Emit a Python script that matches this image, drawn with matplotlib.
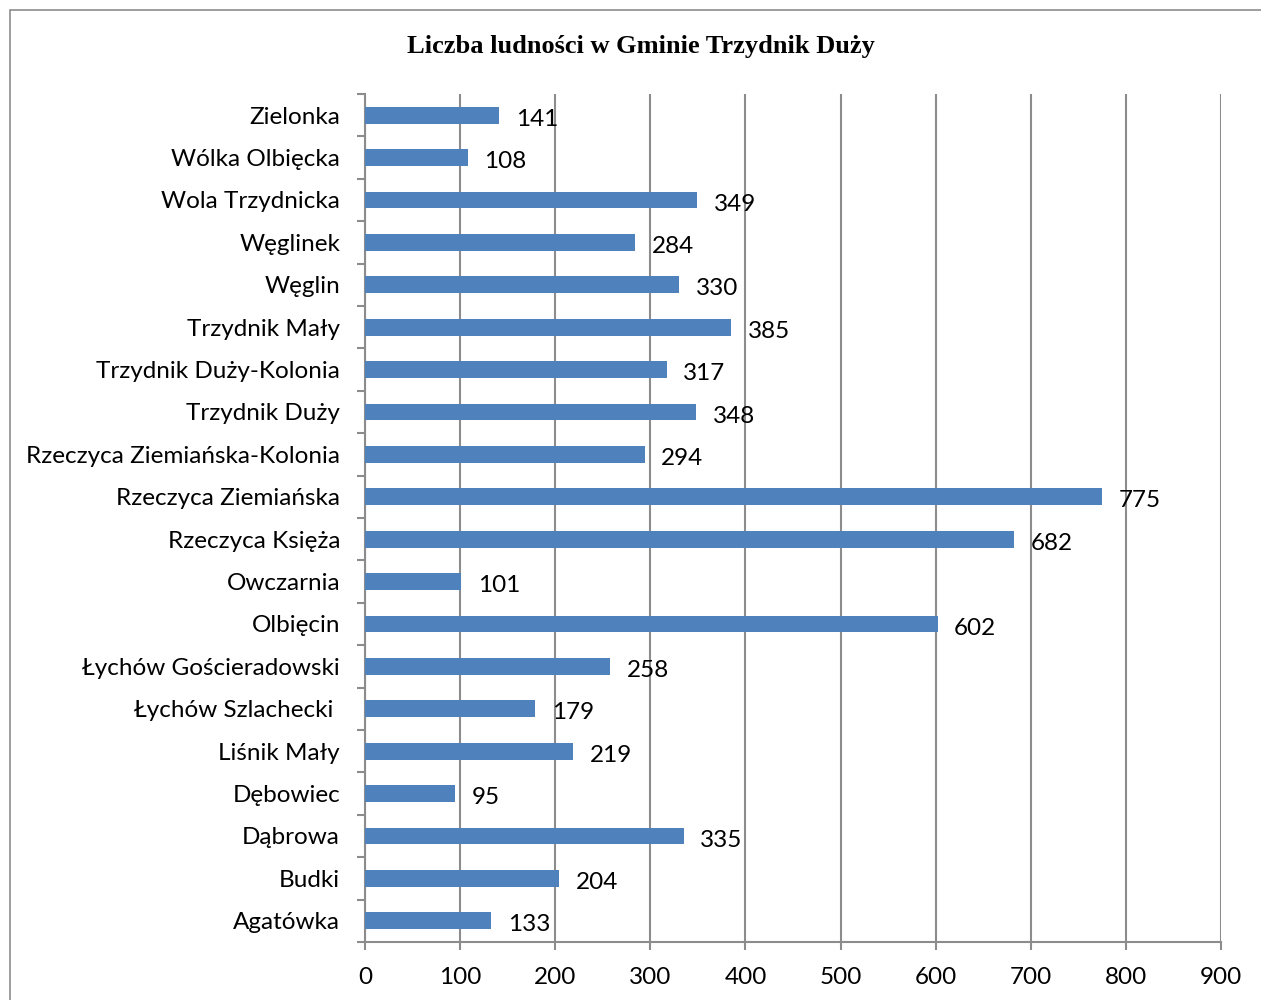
import numpy as np
import matplotlib.pyplot as plt
from matplotlib.patches import Rectangle

# dane (od dołu do góry)
miejscowosci = ['Agatówka', 'Budki', 'Dąbrowa', 'Dębowiec', 'Liśnik Mały',
                'Łychów Szlachecki ', 'Łychów Gościeradowski', 'Olbięcin', 'Owczarnia',
                'Rzeczyca Księża', 'Rzeczyca Ziemiańska', 'Rzeczyca Ziemiańska-Kolonia',
                'Trzydnik Duży', 'Trzydnik Duży-Kolonia', 'Trzydnik Mały', 'Węglin',
                'Węglinek', 'Wola Trzydnicka', 'Wólka Olbięcka', 'Zielonka']
ludnosc = [133, 204, 335, 95, 219, 179, 258, 602, 101, 682, 775, 294,
           348, 317, 385, 330, 284, 349, 108, 141]
x_ticks = [0, 100, 200, 300, 400, 500, 600, 700, 800, 900]

grey = '#8c8c8c'
font = ['Lato', 'DejaVu Sans']
fs = 17.5

fig = plt.figure(figsize=(12.61, 10), dpi=100)
fig.patches.append(Rectangle((10 / 1261, -0.1), 1.2, 1.1 - 10 / 1000, transform=fig.transFigure,
                             fill=False, edgecolor=grey, linewidth=1.2))
ax = fig.add_axes([365 / 1261, 1 - 942 / 1000, (1221 - 365) / 1261, (942 - 94) / 1000])

y = np.arange(len(miejscowosci))
ax.barh(y, ludnosc, height=0.4, color='#4F81BD', zorder=3)

for yi, v in zip(y, ludnosc):
    ax.annotate(str(v), (v, yi), xytext=(12, -3), textcoords='offset points',
                va='center', ha='left', fontsize=fs, family=font)

ax.set_xlim(0, 900)
ax.set_ylim(-0.5, len(miejscowosci) - 0.5)
ax.set_xticks(x_ticks)
ax.set_xticklabels([str(t) for t in x_ticks], fontsize=fs, family=font)
ax.set_yticks(y)
ax.set_yticklabels(miejscowosci, fontsize=fs, family=font)
ax.set_yticks(np.arange(-0.5, len(miejscowosci)), minor=True)
ax.tick_params(axis='y', which='major', length=0, pad=18)
ax.tick_params(axis='y', which='minor', length=6, color=grey, width=1.5)
ax.tick_params(axis='x', length=6, color=grey, width=1.5, pad=12)

ax.grid(axis='x', color=grey, linewidth=1.5, zorder=0)
for s in ['top', 'right']:
    ax.spines[s].set_visible(False)
for s in ['left', 'bottom']:
    ax.spines[s].set_color(grey)
    ax.spines[s].set_linewidth(1.5)

fig.text(641 / 1261, 1 - 47 / 1000, 'Liczba ludności w Gminie Trzydnik Duży', ha='center', va='center',
         fontsize=19, fontweight='bold', family='Liberation Serif')

plt.savefig('out.png', format='png')
